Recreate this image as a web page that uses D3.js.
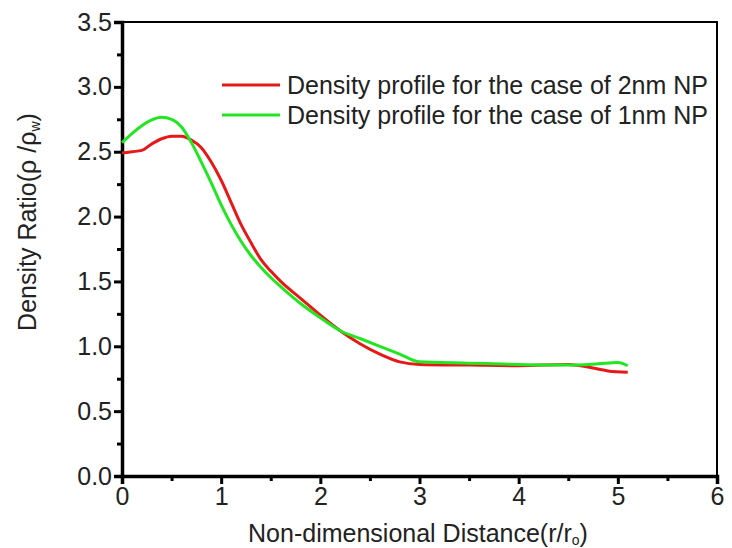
<!DOCTYPE html>
<html>
<head>
<meta charset="utf-8">
<script src="https://cdn.jsdelivr.net/npm/d3@7"></script>
<style>
  body { margin: 0; background: #fff; }
  svg { display: block; font-family: "Liberation Sans", Arial, sans-serif; }
</style>
</head>
<body>
<div id="chart"></div>
<script>
// --- Datos ---
const distance = [0, 0.1, 0.2, 0.3, 0.4, 0.5, 0.6, 0.7, 0.8, 0.9, 1.0, 1.1, 1.2, 1.3, 1.4, 1.5, 1.6, 1.8, 2.0, 2.2, 2.4, 2.6, 2.8, 3.0, 3.5, 4.0, 4.5, 4.7, 4.9, 5.1];
const ratio2nm = [2.49, 2.50, 2.51, 2.56, 2.60, 2.62, 2.62, 2.59, 2.53, 2.42, 2.28, 2.11, 1.94, 1.80, 1.67, 1.58, 1.50, 1.37, 1.24, 1.12, 1.02, 0.94, 0.88, 0.86, 0.855, 0.85, 0.86, 0.84, 0.81, 0.80];

const distance1 = [0, 0.1, 0.2, 0.3, 0.4, 0.5, 0.6, 0.7, 0.8, 0.9, 1.0, 1.1, 1.2, 1.3, 1.4, 1.5, 1.6, 1.8, 2.0, 2.2, 2.4, 2.6, 2.8, 3.0, 3.5, 4.0, 4.5, 4.8, 5.0, 5.1];
const ratio1nm = [2.57, 2.64, 2.70, 2.745, 2.765, 2.75, 2.69, 2.57, 2.42, 2.26, 2.09, 1.94, 1.81, 1.70, 1.61, 1.53, 1.46, 1.33, 1.22, 1.12, 1.06, 1.00, 0.94, 0.88, 0.87, 0.86, 0.855, 0.865, 0.875, 0.85];

const seriesNames = ["Density profile for the case of 2nm NP", "Density profile for the case of 1nm NP"];
const seriesColors = ["#e61919", "#22e622"];
const xTicks = [0, 1, 2, 3, 4, 5, 6];
const yTicks = [0, 0.5, 1.0, 1.5, 2.0, 2.5, 3.0, 3.5];

// --- SVG ---
const width = 732, height = 548;
const margin = { top: 22, right: 15, bottom: 72, left: 122 };

const svg = d3.select("#chart").append("svg")
    .attr("width", width)
    .attr("height", height);

const x = d3.scaleLinear().domain([0, 6]).range([margin.left, width - margin.right]);
const y = d3.scaleLinear().domain([0, 3.5]).range([height - margin.bottom, margin.top]);

// --- Marco ---
svg.append("rect")
    .attr("x", x(0)).attr("y", y(3.5))
    .attr("width", x(6) - x(0)).attr("height", y(0) - y(3.5))
    .attr("fill", "none").attr("stroke", "#000").attr("stroke-width", 2);

// --- Ejes ---
const xAxis = svg.append("g")
    .attr("transform", `translate(0,${y(0)})`)
    .call(d3.axisBottom(x).tickValues(xTicks).tickFormat(d3.format("d")).tickSize(8).tickPadding(3));
svg.append("g")
    .attr("transform", `translate(0,${y(0)})`)
    .call(d3.axisBottom(x).tickValues(d3.range(0.5, 6, 1)).tickFormat("").tickSize(5))
    .select(".domain").remove();

const yAxis = svg.append("g")
    .attr("transform", `translate(${x(0)},0)`)
    .call(d3.axisLeft(y).tickValues(yTicks).tickFormat(d3.format(".1f")).tickSize(8).tickPadding(2));
svg.append("g")
    .attr("transform", `translate(${x(0)},0)`)
    .call(d3.axisLeft(y).tickValues(d3.range(0.25, 3.5, 0.5)).tickFormat("").tickSize(5))
    .select(".domain").remove();

svg.selectAll(".domain").attr("stroke-width", 3.5);
svg.selectAll(".tick line").attr("stroke-width", 3);
svg.selectAll(".tick text").attr("font-size", 25).attr("fill", "#222");
xAxis.selectAll(".tick text").attr("dy", "0.72em");

// --- Títulos de ejes ---
const xTitle = svg.append("text")
    .attr("x", 418).attr("y", 542)
    .attr("text-anchor", "middle")
    .attr("font-size", 25).attr("fill", "#222")
    .text("Non-dimensional Distance(r/r");
xTitle.append("tspan").attr("font-size", 14).attr("dy", 3).text("o");
xTitle.append("tspan").attr("dy", -3).text(")");

const yTitle = svg.append("text")
    .attr("transform", "translate(36,222) rotate(-90)")
    .attr("text-anchor", "middle")
    .attr("font-size", 25).attr("fill", "#222")
    .text("Density Ratio(ρ /ρ");
yTitle.append("tspan").attr("font-size", 14).attr("dy", 4).text("w");
yTitle.append("tspan").attr("dy", -4).text(")");

// --- Líneas ---
const line = d3.line()
    .x(d => x(d[0]))
    .y(d => y(d[1]))
    .curve(d3.curveMonotoneX);

const series = [
    d3.zip(distance, ratio2nm),
    d3.zip(distance1, ratio1nm)
];

svg.selectAll("path.serie")
    .data(series)
    .enter()
    .append("path")
    .attr("class", "serie")
    .attr("d", line)
    .attr("fill", "none")
    .attr("stroke", (d, i) => seriesColors[i])
    .attr("stroke-width", 3);

// --- Leyenda ---
const legend = svg.append("g").attr("transform", "translate(222,85)");
seriesNames.forEach((name, i) => {
    const g = legend.append("g").attr("transform", `translate(0,${i * 30})`);
    g.append("line")
        .attr("x1", 0).attr("x2", 58)
        .attr("stroke", seriesColors[i]).attr("stroke-width", 3);
    g.append("text")
        .attr("x", 65).attr("dy", "0.35em")
        .attr("font-size", 25).attr("fill", "#222")
        .text(name);
});
</script>
</body>
</html>
